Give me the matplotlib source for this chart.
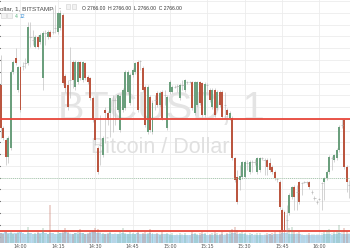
import matplotlib
matplotlib.use('Agg')
import matplotlib.pyplot as plt
import matplotlib.dates as mdates
import numpy as np
import pandas as pd
from matplotlib.patches import Rectangle

# 1 minute BTCUSD candles, Bitstamp
start = '2017-06-20 13:52'
opens = [2781.8, 2774.4, 2772.4, 2769.5, 2771.0, 2784.0, 2786.3, 2780.9, 2784.8, 2785.0,
         2785.5, 2785.5, 2789.9, 2789.4, 2788.2, 2789.9, 2789.1, 2782.9, 2790.6, 2789.9,
         2790.8, 2790.8, 2791.4, 2790.8, 2791.4, 2793.7, 2783.3, 2781.8, 2782.6, 2785.7,
         2781.4, 2782.3, 2785.7, 2782.6, 2785.5, 2783.1, 2782.9, 2779.5, 2775.8, 2771.0,
         2771.6, 2769.9, 2777.5, 2777.0, 2777.0, 2779.2, 2779.2, 2777.5, 2774.1, 2777.5,
         2777.8, 2780.6, 2778.7, 2783.5, 2784.0, 2785.7, 2785.8, 2784.6, 2781.4, 2773.8,
         2779.7, 2773.8, 2779.2, 2780.4, 2778.4, 2780.6, 2780.1, 2774.4, 2780.6, 2780.6,
         2781.4, 2781.6, 2779.5, 2781.8, 2780.9, 2782.3, 2782.3, 2782.3, 2777.0, 2778.4,
         2782.3, 2782.1, 2776.7, 2781.8, 2780.9, 2778.0, 2780.9, 2777.8, 2780.6, 2780.6,
         2778.4, 2777.5, 2776.1, 2776.1, 2769.3, 2766.1, 2765.6, 2766.1, 2766.1, 2768.5,
         2767.0, 2768.7, 2768.7, 2767.0, 2767.3, 2769.3, 2769.0, 2769.0, 2768.5, 2767.8,
         2767.0, 2765.8, 2765.3, 2760.5, 2760.2, 2758.8, 2760.0, 2762.7, 2764.4, 2763.6,
         2765.3, 2765.1, 2765.3, 2765.3, 2765.3, 2763.6, 2762.5, 2761.9, 2762.4, 2765.1,
         2765.3, 2765.9, 2767.0, 2769.3, 2769.0, 2769.3, 2770.7, 2775.0, 2775.8, 2767.8,
         2764.8]
highs = [2786.8, 2774.8, 2772.7, 2773.1, 2784.3, 2786.0, 2788.0, 2785.0, 2785.0, 2785.7,
         2786.3, 2792.5, 2792.5, 2791.1, 2790.3, 2790.3, 2790.6, 2790.9, 2791.1, 2791.1,
         2791.1, 2794.8, 2795.4, 2794.2, 2794.5, 2794.0, 2783.6, 2782.6, 2788.2, 2786.0,
         2786.0, 2785.8, 2785.8, 2785.8, 2785.7, 2783.5, 2783.1, 2779.9, 2776.1, 2771.4,
         2776.7, 2773.1, 2778.0, 2777.3, 2779.5, 2780.1, 2779.5, 2780.2, 2780.2, 2781.2,
         2784.3, 2784.3, 2783.8, 2784.6, 2785.7, 2786.0, 2786.0, 2785.0, 2781.8, 2781.8,
         2780.1, 2779.2, 2780.1, 2780.7, 2780.7, 2780.9, 2780.9, 2780.1, 2782.6, 2781.8,
         2781.8, 2781.9, 2782.1, 2782.6, 2782.8, 2782.4, 2782.4, 2782.4, 2782.4, 2782.4,
         2782.4, 2782.3, 2782.3, 2782.1, 2781.2, 2781.2, 2781.2, 2780.9, 2780.9, 2780.9,
         2780.6, 2777.8, 2777.3, 2776.5, 2769.5, 2767.3, 2768.2, 2768.8, 2769.0, 2769.0,
         2769.0, 2769.0, 2769.2, 2769.5, 2769.5, 2769.5, 2769.3, 2769.3, 2769.3, 2768.2,
         2767.3, 2765.9, 2765.6, 2760.8, 2760.5, 2761.4, 2763.4, 2764.6, 2764.8, 2764.8,
         2765.4, 2765.3, 2765.4, 2765.4, 2765.4, 2763.9, 2762.9, 2762.2, 2762.5, 2765.3,
         2766.1, 2767.3, 2769.9, 2769.7, 2770.0, 2771.0, 2775.0, 2776.0, 2776.0, 2768.2,
         2765.6]
lows = [2772.7, 2772.4, 2768.2, 2768.5, 2770.7, 2783.6, 2785.2, 2780.6, 2777.2, 2784.3,
        2784.6, 2785.2, 2788.2, 2788.6, 2788.0, 2787.9, 2788.7, 2780.9, 2788.6, 2789.6,
        2789.7, 2790.4, 2790.6, 2790.4, 2791.1, 2781.8, 2780.6, 2777.5, 2779.5, 2781.2,
        2780.9, 2781.9, 2782.6, 2782.3, 2782.6, 2781.9, 2779.2, 2775.5, 2771.6, 2766.6,
        2768.2, 2769.5, 2771.9, 2775.0, 2772.9, 2773.8, 2775.0, 2777.2, 2773.8, 2777.2,
        2777.5, 2780.2, 2778.4, 2783.1, 2783.6, 2777.2, 2784.3, 2780.6, 2774.6, 2773.4,
        2773.8, 2773.4, 2777.5, 2778.0, 2778.0, 2775.8, 2778.4, 2774.1, 2780.2, 2780.4,
        2781.2, 2780.6, 2779.2, 2780.9, 2780.6, 2781.9, 2782.1, 2777.5, 2776.7, 2778.0,
        2778.4, 2776.3, 2776.3, 2780.1, 2778.9, 2777.7, 2776.3, 2777.5, 2778.0, 2776.0,
        2776.1, 2776.3, 2775.8, 2769.0, 2765.3, 2761.5, 2763.9, 2765.8, 2765.9, 2767.3,
        2766.6, 2767.0, 2768.2, 2766.6, 2767.0, 2769.0, 2766.5, 2766.5, 2767.0, 2766.6,
        2765.6, 2765.3, 2760.7, 2756.8, 2756.8, 2756.8, 2759.7, 2762.4, 2760.5, 2760.5,
        2761.5, 2763.1, 2765.1, 2764.9, 2764.1, 2763.2, 2762.2, 2761.5, 2762.2, 2760.5,
        2762.2, 2765.6, 2766.6, 2767.3, 2768.7, 2769.0, 2770.4, 2774.4, 2767.5, 2763.6,
        2762.5]
closes = [2774.4, 2772.7, 2769.5, 2772.7, 2784.0, 2785.7, 2785.5, 2784.8, 2777.5, 2785.0,
          2785.5, 2791.6, 2789.9, 2789.4, 2789.9, 2788.2, 2790.3, 2790.6, 2790.6, 2790.8,
          2789.9, 2790.8, 2791.4, 2794.0, 2794.0, 2782.1, 2781.2, 2778.0, 2782.6, 2782.6,
          2785.7, 2785.7, 2782.9, 2785.7, 2782.9, 2782.3, 2779.5, 2775.8, 2772.4, 2767.0,
          2771.6, 2772.7, 2777.0, 2775.8, 2779.5, 2779.2, 2779.2, 2780.1, 2779.9, 2780.9,
          2784.0, 2784.0, 2783.5, 2784.3, 2785.5, 2777.5, 2785.8, 2780.9, 2775.0, 2781.4,
          2774.1, 2778.7, 2779.2, 2778.4, 2780.4, 2776.1, 2780.1, 2779.7, 2782.3, 2781.4,
          2781.4, 2781.6, 2781.8, 2781.8, 2782.6, 2782.3, 2782.3, 2777.8, 2782.3, 2782.3,
          2778.7, 2776.7, 2781.9, 2781.8, 2779.2, 2780.9, 2776.7, 2780.6, 2778.4, 2776.3,
          2778.4, 2776.7, 2777.0, 2769.3, 2765.6, 2761.9, 2766.3, 2768.7, 2768.7, 2768.5,
          2768.7, 2768.7, 2768.7, 2769.3, 2769.3, 2769.3, 2769.0, 2767.8, 2767.3, 2767.0,
          2765.9, 2765.8, 2761.0, 2757.1, 2757.1, 2758.8, 2763.1, 2764.4, 2762.7, 2763.6,
          2761.9, 2765.1, 2765.3, 2765.3, 2764.4, 2763.6, 2762.5, 2761.9, 2762.4, 2765.1,
          2765.9, 2767.0, 2769.5, 2769.3, 2769.9, 2770.7, 2774.6, 2775.0, 2767.8, 2765.3,
          2764.8]
volumes = [10, 9, 11, 9, 12, 10, 9, 11, 10, 9,
           9, 16, 10, 9, 10, 11, 9, 15, 10, 9,
           38, 10, 9, 11, 10, 12, 15, 11, 10, 9,
           10, 11, 14, 10, 9, 10, 11, 12, 15, 14,
           11, 10, 9, 10, 11, 9, 10, 9, 11, 15,
           10, 9, 11, 10, 9, 12, 9, 10, 11, 10,
           14, 10, 9, 10, 9, 11, 9, 10, 9, 10,
           8, 9, 10, 9, 10, 8, 8, 11, 10, 9,
           10, 11, 10, 8, 9, 10, 11, 10, 9, 11,
           9, 10, 12, 14, 16, 13, 10, 11, 10, 9,
           10, 9, 9, 10, 10, 8, 9, 10, 9, 10,
           11, 9, 13, 20, 20, 28, 15, 16, 11, 10,
           11, 9, 8, 9, 10, 9, 9, 9, 9, 10,
           11, 13, 14, 10, 11, 12, 18, 11, 15, 12,
           10]
other_volumes = [10, 10, 11, 10, 10, 9, 10, 10, 11, 10,
                 9, 10, 10, 9, 9, 10, 10, 11, 10, 9,
                 10, 10, 9, 9, 10, 10, 11, 10, 9, 9,
                 10, 9, 10, 10, 9, 9, 10, 11, 11, 10,
                 10, 9, 9, 9, 10, 9, 9, 9, 9, 10,
                 9, 9, 9, 9, 9, 10, 9, 9, 9, 9,
                 10, 9, 9, 9, 8, 9, 9, 9, 8, 8,
                 8, 8, 8, 8, 8, 8, 8, 9, 9, 8,
                 8, 9, 9, 8, 8, 8, 9, 8, 8, 9,
                 8, 9, 9, 10, 10, 9, 9, 9, 9, 8,
                 8, 9, 8, 8, 8, 8, 8, 8, 9, 8,
                 9, 9, 9, 10, 10, 10, 9, 9, 9, 9,
                 9, 8, 8, 8, 8, 8, 8, 8, 8, 8,
                 9, 9, 9, 8, 9, 9, 10, 9, 9, 9,
                 9]
resistance = 2776.0
support = 2757.0
last_price = 2766.0

GREEN = '#6b9f7d'
RED = '#bb5640'
WICK = '#c2c2c2'

times = pd.date_range(start, periods=len(opens), freq='min')
x = mdates.date2num(times)
minute = 1.0 / 1440
o = np.array(opens)
h = np.array(highs)
l = np.array(lows)
c = np.array(closes)

fig = plt.figure(figsize=(3.5, 2.5), dpi=100)
ax = fig.add_axes([0, 7 / 250, 1, 243 / 250])
ax.set_xlim(x[0] - 0.23 * minute, x[0] + 140.3 * minute)
ax.set_ylim(2754.9, 2796.2)
for s in ax.spines.values():
    s.set_visible(False)
ax.set_axisbelow(True)
ax.set_yticks(np.arange(2756, 2797, 2))
ax.grid(True, color='#ececec', lw=0.6)
ax.tick_params(axis='y', left=False, labelleft=False)
ax.tick_params(axis='x', length=0, labelsize=3.4, labelcolor='#555555', pad=0.8)
ax.xaxis.set_major_locator(mdates.MinuteLocator(byminute=[0, 15, 30, 45]))
ax.xaxis.set_major_formatter(mdates.DateFormatter('%H:%M'))

# watermark
ax.text(161 / 350, 1 - 120 / 243, 'BTCUSD, 1', transform=ax.transAxes, ha='center', va='baseline',
        fontsize=28.5, family='Liberation Sans', color='#e4e4e4', zorder=0.6)
ax.text(160 / 350, 1 - 153 / 243, 'Bitcoin / Dollar', transform=ax.transAxes, ha='center', va='baseline',
        fontsize=15.5, family='Liberation Sans', color='#e0e0e0', zorder=0.6)

# candles
up = c > o
down = c < o
flat = c == o
ax.vlines(x, l, h, color=WICK, lw=0.5, zorder=2)
ax.bar(x[up], (c - o)[up], bottom=o[up], width=0.8 * minute, color=GREEN, lw=0, zorder=3)
ax.bar(x[down], (o - c)[down], bottom=c[down], width=0.8 * minute, color=RED, lw=0, zorder=3)
ax.hlines(c[flat], x[flat] - 0.45 * minute, x[flat] + 0.45 * minute, color='#b5b5b5', lw=0.5, zorder=3)

ax.axhline(last_price, color='#8fbf98', lw=0.6, ls=(0, (1, 1.5)), zorder=4)
ax.axhline(resistance, color='#e8463a', lw=1.3, zorder=5)
ax.axhline(support, color='#e8463a', lw=1.3, zorder=5)

# volume pane overlay
axv = ax.twinx()
axv.set_ylim(0, 243)
axv.set_yticks([])
for s in axv.spines.values():
    s.set_visible(False)
axv.bar(x, other_volumes, width=minute, color='#a9d7f3', lw=0, alpha=0.85)
vcol = np.where(up, GREEN, np.where(down, RED, '#bbbbbb'))
axv.bar(x, volumes, width=0.8 * minute, color=vcol, lw=0, alpha=0.25)

# header
def px(xp, yp):
    return xp / 350, 1 - yp / 250

fig.text(*px(-0.5, 10.5), 'ollar, 1, BITSTAMP', fontsize=4.6, family='Liberation Sans',
         color='#4a4a4a', va='baseline')
fig.text(*px(59, 10.5), '-', fontsize=4.6, family='Liberation Sans', color='#777777', va='baseline')
for xx, yy in [(65.5, 4), (71.5, 4), (1, 13), (7, 13)]:
    fig.add_artist(Rectangle(px(xx, yy + 4.5), 4.5 / 350, 4.5 / 250, transform=fig.transFigure,
                             facecolor='#f2f2f2', edgecolor='#d0d0d0', lw=0.4))
fig.text(*px(82, 10), 'O 2766.00  H 2766.00  L 2766.00  C 2766.00', fontsize=3.6,
         family='Liberation Sans', color='#333333', va='baseline')
fig.text(*px(15, 18), '4', fontsize=3.6, family='Liberation Sans', color='#53b07a', va='baseline')
fig.text(*px(20, 18), '12', fontsize=3.6, family='Liberation Sans', color='#3a8fd6', va='baseline')

fig.savefig('out.png', dpi=100)
